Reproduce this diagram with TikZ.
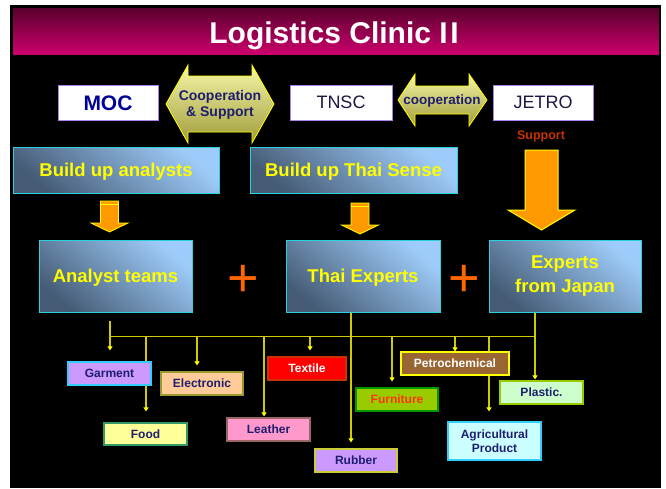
\documentclass[tikz,border=0pt]{standalone}
\usepackage{fontspec}
\setmainfont{Liberation Sans}
\usetikzlibrary{calc,arrows.meta}
\pgfdeclarelayer{bg}
\pgfdeclarelayer{lines}
\pgfsetlayers{bg,lines,main}
\definecolor{titletop}{RGB}{90,0,45}
\definecolor{titlebot}{RGB}{204,0,108}
\definecolor{lightb}{RGB}{158,204,250}
\definecolor{darkb}{RGB}{70,92,118}
\definecolor{cyanb}{RGB}{40,210,220}
\definecolor{navy}{RGB}{30,30,110}
\definecolor{mocblue}{RGB}{0,0,150}
\definecolor{darkt}{RGB}{25,25,70}
\definecolor{lavb}{RGB}{170,130,230}
\definecolor{arrtop}{RGB}{246,246,168}
\definecolor{arrbot}{RGB}{160,156,60}
\definecolor{orng}{RGB}{255,153,0}
\definecolor{ylw}{RGB}{255,255,0}
\definecolor{linec}{RGB}{204,204,0}
\definecolor{plusc}{RGB}{255,102,0}
\definecolor{supc}{RGB}{200,50,0}
\begin{document}
\begin{tikzpicture}[x=1pt,y=-1pt,
  capc/.style={text height=#1,text depth=0pt},
  whitebox/.style={draw=lavb,line width=0.8pt,fill=white,inner sep=0pt},
  bluebox/.style={draw=cyanb,line width=1pt,top color=lightb,bottom color=darkb,shading angle=-40,
     text=ylw,font=\fontsize{18.5}{22}\selectfont\bfseries,align=center,inner sep=0pt},
  dblarrow/.style={draw=ylw,line width=0.8pt,top color=arrtop,bottom color=arrbot},
  orarrow/.style={draw=ylw,line width=1pt,fill=orng},
  cat/.style={line width=1.2pt,inner sep=0pt,font=\fontsize{12}{13.5}\selectfont\bfseries,text=navy,align=center,minimum height=23pt},
  bus/.style={draw=linec,line width=1.4pt},
  link/.style={draw=linec,line width=1.4pt,-{Triangle[width=5pt,length=4pt,fill=ylw,color=ylw]}},
  plusn/.style={text=plusc,font=\fontsize{54}{54}\selectfont,inner sep=0pt}]
\useasboundingbox (0,0) rectangle (666,488);
\begin{pgfonlayer}{bg}
\fill[white] (0,0) rectangle (666,488);
\fill[black] (10,5) rectangle (661,488);
\shade[top color=titletop,bottom color=titlebot] (13,8) rectangle (659,54);
\end{pgfonlayer}
\node[text=white,font=\fontsize{30}{34}\selectfont\bfseries,capc=21.5pt,inner sep=0pt] (title) at (334,32.5) {Logistics Clinic I\kern2.5pt I};
% top row
\node[whitebox,minimum width=100pt,minimum height=35pt,text=mocblue,font=\fontsize{21}{24}\selectfont\bfseries,capc=15pt] (moc) at (108,102.5) {MOC};
\node[whitebox,minimum width=102pt,minimum height=35pt,text=darkt,font=\fontsize{18}{22}\selectfont,capc=12.9pt] (tnsc) at (341,102.5) {TNSC};
\node[whitebox,minimum width=100pt,minimum height=35pt,text=darkt,font=\fontsize{18}{22}\selectfont,capc=12.9pt] (jetro) at (543,102.5) {JETRO};
\path[dblarrow] (166,104) -- (188,65) -- (188,76) -- (252,76) -- (252,65) -- (274,104) -- (252,143) -- (252,132) -- (188,132) -- (188,143) -- cycle;
\node[text=navy,font=\fontsize{14}{16.5}\selectfont\bfseries,align=center] (coop1) at (220,105) {Cooperation\\\& Support};
\path[dblarrow] (398,100) -- (415,74) -- (415,86) -- (469,86) -- (469,74) -- (487,100) -- (469,126) -- (469,114) -- (415,114) -- (415,126) -- cycle;
\node[text=navy,font=\fontsize{13.5}{16}\selectfont\bfseries,capc=9.7pt,inner sep=0pt] (coop2) at (442,100) {cooperation};
\node[text=supc,font=\fontsize{12.5}{14}\selectfont\bfseries,capc=9pt,inner sep=0pt] (sup) at (541,135) {Support};
\path[orarrow] (525,150) -- (558,150) -- (558,210) -- (575,210) -- (541.5,230) -- (508,210) -- (525,210) -- cycle;
% build up boxes
\node[bluebox,capc=13.2pt,minimum width=206pt,minimum height=46pt] (bua) at (116,170) {Build up analysts};
\node[bluebox,capc=13.2pt,minimum width=207pt,minimum height=46pt] (but) at (353.5,170) {Build up Thai Sense};
% small arrows
\path[orarrow,line width=0.8pt] (100.5,201) -- (118.5,201) -- (118.5,223) -- (128,223) -- (109.5,232) -- (91,223) -- (100.5,223) -- cycle;
\draw[ylw,line width=0.8pt] (100.5,204) -- (118.5,204);
\path[orarrow,line width=0.8pt] (351,203) -- (369,203) -- (369,225) -- (378.5,225) -- (360,234) -- (341.5,225) -- (351,225) -- cycle;
\draw[ylw,line width=0.8pt] (351,206) -- (369,206);
% main boxes
\node[bluebox,capc=13.2pt,minimum width=153pt,minimum height=72pt] (at) at (115.5,276) {Analyst teams};
\node[bluebox,capc=13.2pt,minimum width=154pt,minimum height=72pt] (te) at (363,276) {Thai Experts};
\node[bluebox,minimum width=152pt,minimum height=72pt] (ej) at (565,276) {Experts\\[2pt]from Japan};
\node[plusn] (p1) at (243,281) {+};
\node[plusn] (p2) at (464.5,281) {+};
% category boxes
\node[cat,capc=8.6pt,fill={rgb,255:red,204;green,153;blue,255},draw={rgb,255:red,51;green,204;blue,255},minimum width=83pt] (garment) at (109.5,373.5) {Garment};
\node[cat,capc=8.6pt,fill={rgb,255:red,255;green,255;blue,153},draw={rgb,255:red,51;green,153;blue,102},minimum width=83pt,minimum height=22pt] (food) at (145.5,434) {Food};
\node[cat,capc=8.6pt,fill={rgb,255:red,255;green,204;blue,153},draw={rgb,255:red,153;green,153;blue,51},minimum width=82pt] (elec) at (202,383.5) {Electronic};
\node[cat,capc=8.6pt,fill={rgb,255:red,255;green,153;blue,204},draw={rgb,255:red,153;green,102;blue,102},minimum width=83pt] (leather) at (268.5,429.5) {Leather};
\node[cat,capc=8.6pt,fill={rgb,255:red,255;green,0;blue,0},draw={rgb,255:red,204;green,51;blue,0},text=white,minimum width=78pt] (textile) at (307,368.5) {Textile};
\node[cat,capc=8.6pt,fill={rgb,255:red,204;green,153;blue,255},draw={rgb,255:red,204;green,204;blue,51},minimum width=82pt] (rubber) at (356,460.5) {Rubber};
\node[cat,capc=8.6pt,fill={rgb,255:red,153;green,204;blue,0},draw={rgb,255:red,0;green,153;blue,0},text={rgb,255:red,255;green,51;blue,0},minimum width=82pt] (furn) at (397,399.5) {Furniture};
\node[cat,capc=8.6pt,fill={rgb,255:red,153;green,102;blue,51},draw={rgb,255:red,255;green,255;blue,0},text=white,minimum width=108pt] (petro) at (455,363.5) {Petrochemical};
\node[cat,fill={rgb,255:red,204;green,255;blue,255},draw={rgb,255:red,51;green,204;blue,255},minimum width=93pt,minimum height=38pt] (agri) at (494.5,441) {Agricultural\\Product};
\node[cat,capc=8.6pt,fill={rgb,255:red,204;green,255;blue,204},draw={rgb,255:red,153;green,204;blue,0},minimum width=83pt] (plastic) at (541.5,392.5) {Plastic.};
% connectors
\coordinate (busL) at (110,336.5);
\coordinate (busR) at (535,336.5);
\coordinate (bFood) at (146,336.5);
\coordinate (bElec) at (197,336.5);
\coordinate (bLeather) at (264,336.5);
\coordinate (bTextile) at (310,336.5);
\coordinate (bFurn) at (392,336.5);
\coordinate (bPetro) at (455,336.5);
\coordinate (bAgri) at (489,336.5);
\coordinate (atDrop) at ($(at.south -| busL)+(0,8)$);
\coordinate (teDrop) at ($(te.south)+(-12,0)$);
\coordinate (ejDrop) at (ej.south -| busR);
\begin{pgfonlayer}{lines}
\draw[bus] (atDrop) -- (busL) -- (busR);
\draw[bus] (ejDrop) -- (busR);
\draw[link,shorten >=11pt] (busL) -- (busL |- garment.north);
\draw[link,shorten >=11pt] (bFood) -- (bFood |- food.north);
\draw[link,shorten >=6pt] (bElec) -- (bElec |- elec.north);
\draw[link,shorten >=1pt] (bLeather) -- (bLeather |- leather.north);
\draw[link,shorten >=6pt] (bTextile) -- (bTextile |- textile.north);
\draw[link,shorten >=6pt] (teDrop) -- (teDrop |- rubber.north);
\draw[link,shorten >=6pt] (bFurn) -- (bFurn |- furn.north);
\draw[link,shorten >=0pt] (bPetro) -- (bPetro |- petro.north);
\draw[link,shorten >=10pt] (bAgri) -- (bAgri |- agri.north);
\draw[link,shorten >=1pt] (busR) -- (busR |- plastic.north);
\end{pgfonlayer}
\end{tikzpicture}
\end{document}
